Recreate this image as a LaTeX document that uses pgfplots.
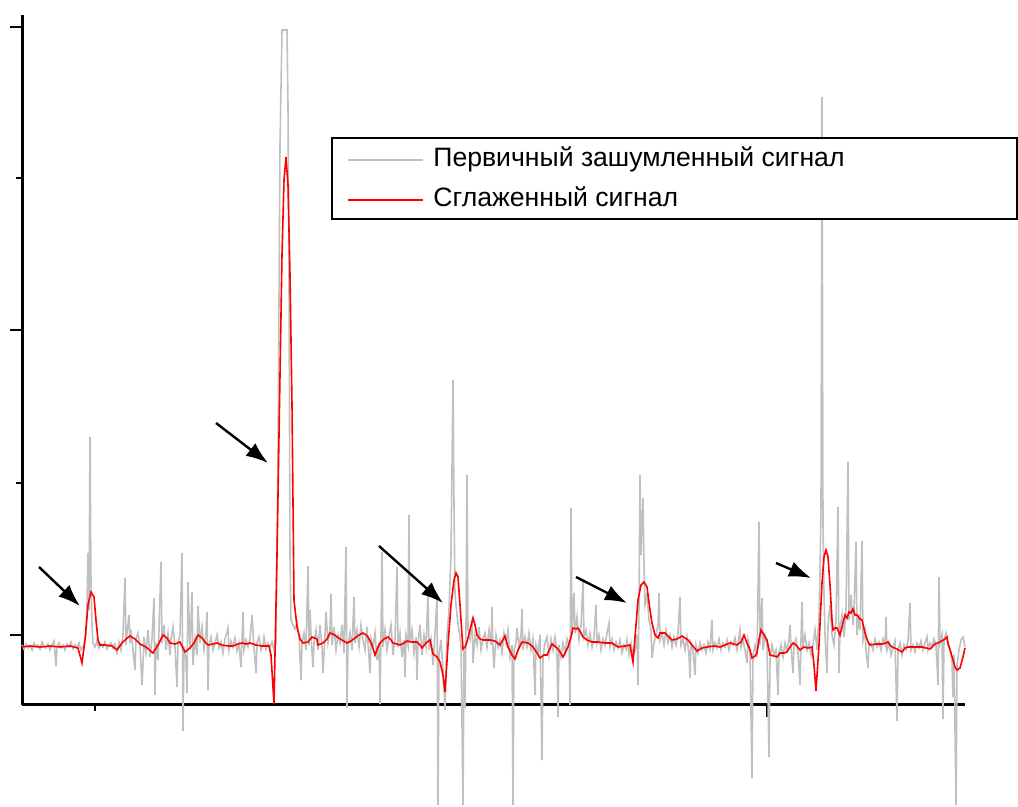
\documentclass[border=0pt]{standalone}
\usepackage{pgfplots}
\pgfplotsset{compat=1.18}
\usepackage{fontspec}
\setmainfont{Liberation Sans}
\usetikzlibrary{arrows.meta}
\definecolor{noisegray}{RGB}{192,192,192}
\definecolor{smoothred}{RGB}{255,0,0}
\begin{document}
\begin{tikzpicture}
\begin{axis}[
  scale only axis, width=471.5pt, height=345pt,
  xmin=22, xmax=965, ymin=0, ymax=690,
  axis x line*=bottom, axis y line*=left,
  axis line style={black, line width=1.5pt},
  clip=false,
  xtick={767}, minor xtick={95},
  ytick={70,375,678}, minor ytick={222,527},
  xticklabels={}, yticklabels={},
  tick align=outside,
  major tick length=6pt, minor tick length=3pt,
  every tick/.style={black, line width=1.2pt},
]
\addplot[noisegray, line width=0.8pt] coordinates {
(22,60)(24,56)(26,61)(28,57)(30,59)(32,55)(34,62)(36,58)(38,60)(40,56)(42,63)(44,58)(46,57)(48,61)(50,55)(52,60)(54,64)(56,39)(57,58)(59,62)(61,57)(63,60)(65,55)(67,61)(69,58)(71,63)(73,56)(75,60)(77,57)(79,62)(81,55)(83,58)(85,65)(86,70)(87,100)(88,152)(89,95)(90,268)(91,120)(92,80)(93,62)(95,58)(97,64)(99,57)(101,61)(103,58)(105,63)(107,56)(109,60)(111,62)(113,57)(115,61)(117,52)(119,63)(121,55)(123,70)(125,127)(126,60)(127,72)(129,90)(130,62)(131,75)(133,55)(135,35)(136,66)(138,72)(140,58)(142,20)(143,40)(144,68)(146,52)(148,75)(150,48)(152,66)(154,107)(155,10)(156,62)(158,45)(159,75)(161,143)(162,62)(164,80)(166,55)(168,72)(170,50)(171,66)(173,78)(175,58)(177,18)(178,62)(180,70)(182,152)(183,-26)(184,58)(186,45)(187,12)(188,123)(190,55)(192,113)(193,40)(195,66)(197,50)(198,99)(200,62)(202,78)(204,55)(206,72)(207,93)(208,15)(209,60)(211,68)(213,55)(215,62)(217,70)(219,57)(221,63)(223,52)(225,66)(228,77)(229,55)(231,64)(233,58)(235,67)(237,54)(239,62)(241,38)(243,93)(244,55)(246,65)(248,58)(250,66)(252,90)(254,57)(256,32)(257,62)(259,68)(261,55)(263,60)(264,68)(266,56)(268,62)(270,58)(272,63)(274,55)(276,62)(278,250)(280,560)(282,675)(284,675)(286,675)(287,675)(288,600)(289,420)(290,150)(291,85)(293,80)(295,76)(297,82)(299,70)(301,25)(302,62)(304,72)(306,55)(308,139)(309,60)(310,95)(311,70)(313,38)(314,62)(316,75)(318,55)(320,80)(322,58)(323,32)(325,70)(326,93)(328,62)(330,75)(331,111)(332,60)(334,78)(336,55)(338,70)(340,62)(342,80)(344,52)(346,158)(347,-3)(348,60)(350,72)(352,55)(354,108)(355,62)(357,75)(359,58)(361,80)(363,65)(365,55)(367,78)(370,32)(371,66)(373,58)(375,72)(377,45)(379,62)(380,1)(381,70)(382,153)(383,58)(385,75)(387,55)(389,68)(391,80)(393,50)(395,66)(397,138)(398,58)(400,72)(402,48)(404,65)(405,28)(406,70)(408,60)(409,190)(410,62)(412,75)(414,52)(416,68)(417,25)(418,62)(420,80)(422,50)(424,70)(426,58)(428,112)(429,55)(431,66)(433,40)(435,72)(437,108)(438,-100)(439,50)(441,65)(443,35)(445,-5)(447,70)(449,95)(451,150)(453,325)(454,200)(455,110)(457,90)(459,75)(461,60)(463,-100)(464,55)(465,-3)(466,80)(467,230)(468,75)(470,66)(472,85)(473,42)(475,70)(477,60)(479,78)(481,55)(483,66)(485,72)(487,58)(489,75)(491,60)(492,98)(493,55)(494,37)(496,70)(498,58)(500,65)(502,52)(504,72)(506,62)(508,75)(510,48)(512,60)(513,-100)(514,55)(516,62)(517,77)(519,58)(521,70)(522,96)(523,55)(525,68)(527,58)(529,72)(531,55)(533,66)(535,10)(536,60)(538,52)(540,70)(542,-55)(543,48)(545,62)(547,68)(549,50)(551,66)(553,55)(555,68)(557,50)(558,-12)(559,60)(561,48)(563,62)(565,52)(567,66)(569,60)(570,0)(571,197)(572,70)(574,112)(575,72)(577,88)(579,65)(581,80)(583,123)(584,68)(586,75)(588,60)(590,72)(592,58)(594,68)(596,100)(597,62)(599,70)(601,55)(603,66)(605,60)(607,72)(609,82)(610,58)(612,66)(614,55)(616,63)(618,57)(620,65)(622,52)(624,60)(626,56)(627,65)(629,50)(631,62)(633,48)(635,55)(637,70)(638,20)(639,100)(640,230)(641,150)(642,178)(643,207)(644,140)(645,100)(647,110)(649,85)(651,75)(652,47)(654,62)(656,70)(658,80)(659,112)(660,65)(662,72)(664,60)(666,75)(668,62)(670,70)(672,58)(674,68)(676,60)(678,72)(680,108)(681,60)(683,66)(685,55)(687,68)(689,50)(690,27)(691,62)(693,55)(695,30)(696,60)(698,52)(700,62)(702,55)(704,60)(706,52)(708,63)(710,56)(712,85)(713,55)(715,62)(717,57)(719,66)(721,55)(723,62)(725,58)(727,65)(729,55)(731,63)(733,60)(735,67)(737,55)(740,75)(741,58)(743,65)(745,55)(747,42)(748,65)(750,55)(752,-73)(753,50)(755,60)(757,48)(759,183)(760,60)(762,107)(763,55)(765,70)(767,60)(769,-52)(770,45)(772,60)(774,50)(776,55)(778,10)(779,52)(781,60)(783,48)(785,62)(787,55)(789,65)(790,80)(791,58)(793,32)(794,60)(796,66)(798,52)(800,20)(801,65)(802,103)(803,58)(805,70)(807,55)(809,62)(811,50)(813,60)(815,75)(817,55)(819,90)(820,130)(821,200)(822,608)(823,180)(824,110)(825,70)(827,32)(828,80)(830,100)(832,70)(834,60)(836,85)(838,198)(839,32)(840,75)(842,90)(844,68)(846,95)(848,243)(849,85)(851,110)(853,80)(854,95)(856,163)(857,70)(859,90)(860,75)(862,164)(863,65)(865,75)(866,55)(868,37)(869,60)(871,62)(873,55)(875,66)(877,58)(879,63)(881,55)(883,66)(885,60)(886,88)(887,55)(889,62)(891,50)(893,58)(895,64)(897,-16)(898,55)(900,62)(902,50)(904,60)(906,55)(908,64)(910,102)(911,55)(913,60)(915,53)(917,62)(919,57)(921,64)(923,55)(925,62)(927,68)(928,55)(930,62)(932,58)(934,66)(936,60)(938,20)(939,128)(940,62)(942,70)(943,-14)(944,65)(946,72)(948,60)(950,55)(952,45)(953,8)(954,50)(956,-100)(957,40)(959,55)(961,65)(963,68)(965,58)
};
\addplot[smoothred, line width=0.8pt] coordinates {
(22,58)(30,59)(40,58)(50,59)(60,58)(70,59)(78,57)(82,42)(85,65)(88,100)(91,113)(94,108)(96,85)(98,65)(100,60)(105,60)(112,59)(117,55)(122,62)(126,66)(130,69)(135,66)(140,61)(146,58)(153,52)(158,60)(163,70)(167,67)(170,62)(175,61)(180,63)(185,53)(190,57)(194,62)(198,70)(202,67)(205,63)(208,60)(213,61)(217,62)(222,60)(228,59)(233,59)(238,61)(242,62)(246,61)(250,62)(256,60)(262,59)(269,59)(271,50)(274,1)(277,150)(280,330)(282,450)(284,525)(286,548)(288,520)(290,430)(292,300)(294,105)(297,78)(300,66)(303,62)(308,63)(312,68)(317,66)(318,60)(323,62)(327,66)(330,72)(335,70)(337,68)(342,65)(347,62)(351,64)(355,67)(359,70)(363,72)(366,70)(368,68)(372,60)(375,50)(378,58)(380,62)(384,66)(388,68)(391,65)(393,62)(397,61)(400,60)(404,62)(407,64)(412,63)(417,63)(420,60)(422,57)(426,62)(430,65)(433,51)(437,48)(440,43)(443,30)(445,13)(448,60)(451,100)(454,125)(456,132)(458,128)(460,100)(462,70)(463,56)(465,58)(467,63)(470,75)(473,87)(475,80)(477,70)(480,66)(483,65)(490,65)(495,64)(500,60)(505,69)(508,58)(512,50)(515,46)(518,55)(522,63)(528,62)(533,58)(537,52)(540,47)(544,50)(547,50)(552,61)(557,57)(560,53)(563,48)(566,54)(568,58)(571,68)(573,77)(576,76)(578,77)(581,72)(583,68)(587,65)(592,63)(598,63)(605,62)(612,62)(618,58)(625,59)(630,60)(633,43)(636,80)(638,105)(641,120)(644,123)(647,118)(650,95)(652,82)(655,70)(658,67)(660,72)(665,72)(668,69)(672,65)(677,66)(682,69)(688,65)(692,60)(697,54)(702,57)(707,58)(714,59)(720,58)(725,60)(730,62)(737,60)(741,63)(744,70)(747,62)(750,55)(752,47)(755,49)(757,52)(759,65)(761,75)(764,70)(767,65)(770,50)(774,49)(777,48)(780,52)(784,52)(787,53)(790,58)(793,62)(796,60)(800,55)(804,58)(808,57)(812,58)(814,40)(816,14)(819,60)(822,122)(824,148)(826,155)(828,148)(830,120)(832,85)(833,75)(835,77)(837,77)(840,70)(843,82)(845,90)(847,87)(849,93)(851,92)(853,96)(855,90)(857,90)(860,86)(862,85)(865,72)(868,63)(870,60)(876,61)(882,61)(886,62)(888,63)(890,60)(892,58)(897,56)(902,53)(905,57)(908,58)(914,58)(922,58)(926,57)(930,56)(935,61)(940,63)(945,66)(947,68)(948,62)(951,52)(953,45)(955,38)(957,35)(960,37)(963,48)(965,57)
};
% arrows
\draw[black, line width=1.2pt, -{Latex[length=11pt,width=8pt]}] (axis cs:39,138) -- (axis cs:80,99);
\draw[black, line width=1.2pt, -{Latex[length=11pt,width=8pt]}] (axis cs:216,282) -- (axis cs:268,242);
\draw[black, line width=1.2pt, -{Latex[length=11pt,width=8pt]}] (axis cs:379,159) -- (axis cs:443,102);
\draw[black, line width=1.2pt, -{Latex[length=11pt,width=8pt]}] (axis cs:576,128) -- (axis cs:627,102);
\draw[black, line width=1.2pt, -{Latex[length=11pt,width=8pt]}] (axis cs:776,142) -- (axis cs:811,127);
% legend
\draw[black, line width=0.6pt, fill=white] (axis cs:332,567) rectangle (axis cs:1017,486);
\draw[noisegray, line width=0.8pt] (axis cs:348,545) -- (axis cs:423,545);
\draw[smoothred, line width=0.8pt] (axis cs:348,505) -- (axis cs:423,505);
\node[anchor=base west, inner sep=0pt, font=\fontsize{13.3}{16}\selectfont] at (axis cs:433,538) {Первичный зашумленный сигнал};
\node[anchor=base west, inner sep=0pt, font=\fontsize{13.3}{16}\selectfont] at (axis cs:433,498) {Сглаженный сигнал};
\coordinate (bl) at (axis cs:0,-102);
\coordinate (tr) at (axis cs:1018,705);
\end{axis}
\pgfresetboundingbox
\path[use as bounding box] (bl) rectangle (tr);
\end{tikzpicture}
\end{document}
